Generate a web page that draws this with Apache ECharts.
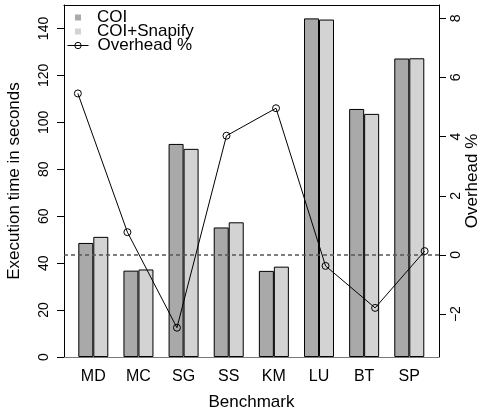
<!DOCTYPE html>
<html>
<head>
<meta charset="utf-8">
<script src="https://cdn.jsdelivr.net/npm/echarts@6/dist/echarts.min.js"></script>
<style>
  html, body { margin: 0; padding: 0; background: #fff; }
  #chart { width: 478px; height: 415px; }
</style>
</head>
<body>
<div id="chart"></div>
<script>
// data
const benchmarks = ['MD', 'MC', 'SG', 'SS', 'KM', 'LU', 'BT', 'SP']
const coiTimes = [48.6, 36.8, 90.8, 55.2, 36.7, 144.3, 105.7, 127.2]
const snapifyTimes = [51.2, 37.3, 88.7, 57.4, 38.5, 143.8, 103.6, 127.3]
const overheadPct = [5.46, 0.77, -2.46, 4.03, 4.96, -0.37, -1.79, 0.13]
const timeTicks = [0, 20, 40, 60, 80, 100, 120, 140]
const overheadTicks = [-2, 0, 2, 4, 6, 8]

const font = 'Liberation Sans, Arial, Helvetica, sans-serif'
const chart = echarts.init(document.getElementById('chart'))

const option = {
  animation: false,
  textStyle: { fontFamily: font, color: '#000' },
  // keep the plot box fixed, names may sit at the window edge
  grid: { left: 64, right: 39, top: 5, bottom: 58, outerBoundsMode: 'none' },
  legend: [
    {
      data: ['COI', 'COI+Snapify'],
      orient: 'vertical',
      left: 75,
      top: 9,
      padding: 0,
      itemGap: -3,
      itemWidth: 6,
      itemHeight: 6,
      icon: 'rect',
      itemStyle: { borderWidth: 0 },
      textStyle: { fontSize: 17, lineHeight: 14, color: '#000', padding: [0, 0, 0, 11] },
      selectedMode: false
    },
    {
      data: ['Overhead %'],
      orient: 'vertical',
      left: 67,
      top: 37,
      padding: 0,
      itemWidth: 21,
      itemHeight: 8,
      itemStyle: { borderWidth: 1 },
      lineStyle: { width: 1 },
      textStyle: { fontSize: 17, lineHeight: 14, color: '#000', padding: [0, 0, 0, 4] },
      selectedMode: false
    }
  ],
  xAxis: [
    {
      // bar positions: group i centred at i
      type: 'value',
      min: -0.649,
      max: 7.658,
      position: 'bottom',
      name: 'Benchmark',
      nameLocation: 'middle',
      nameGap: 37,
      nameMoveOverlap: false,
      nameTextStyle: { fontSize: 17, color: '#000' },
      axisLine: { show: true, onZero: false, lineStyle: { color: '#7a7a7a', width: 1 } },
      axisTick: { show: false },
      axisLabel: {
        customValues: benchmarks.map((b, i) => i),
        formatter: v => benchmarks[v],
        fontSize: 16,
        margin: 12,
        color: '#000'
      },
      splitLine: { show: false }
    },
    {
      // overhead line drawn on 1..8 like a second plot
      type: 'value',
      min: 0.72,
      max: 8.29,
      position: 'top',
      axisLine: { show: true, onZero: false, lineStyle: { color: '#000', width: 1 } },
      axisTick: { show: false },
      axisLabel: { show: false },
      splitLine: { show: false }
    }
  ],
  yAxis: [
    {
      type: 'value',
      min: 0,
      max: 150,
      position: 'left',
      name: 'Execution time in seconds',
      nameLocation: 'middle',
      nameRotate: 90,
      nameGap: 41,
      nameMoveOverlap: false,
      nameTextStyle: { fontSize: 17, color: '#000' },
      axisLine: { show: true, onZero: false, lineStyle: { color: '#000', width: 1 } },
      axisTick: { show: true, length: 7, customValues: timeTicks, lineStyle: { color: '#000' } },
      axisLabel: { customValues: timeTicks, rotate: 90, fontSize: 14, margin: 13, color: '#000' },
      splitLine: { show: false }
    },
    {
      type: 'value',
      min: -3.45,
      max: 8.45,
      position: 'right',
      name: 'Overhead %',
      nameLocation: 'middle',
      nameRotate: 90,
      nameGap: 25,
      nameMoveOverlap: false,
      nameTextStyle: { fontSize: 17, color: '#000' },
      axisLine: { show: true, onZero: false, lineStyle: { color: '#000', width: 1 } },
      axisTick: { show: true, length: 7, customValues: overheadTicks, lineStyle: { color: '#000' } },
      axisLabel: {
        customValues: overheadTicks,
        rotate: 90,
        fontSize: 14,
        margin: 10,
        color: '#000',
        formatter: v => (v < 0 ? '\u2212' + Math.abs(v) : String(v))
      },
      splitLine: { show: false }
    }
  ],
  series: [
    {
      name: 'COI',
      type: 'bar',
      xAxisIndex: 0,
      yAxisIndex: 0,
      barWidth: 15,
      barGap: '0%',
      data: coiTimes.map((v, i) => [i, v]),
      itemStyle: { color: '#a9a9a9', borderColor: '#000', borderWidth: 1 }
    },
    {
      name: 'COI+Snapify',
      type: 'bar',
      xAxisIndex: 0,
      yAxisIndex: 0,
      barWidth: 15,
      barGap: '0%',
      data: snapifyTimes.map((v, i) => [i, v]),
      itemStyle: { color: '#d3d3d3', borderColor: '#000', borderWidth: 1 }
    },
    {
      name: 'Overhead %',
      type: 'line',
      xAxisIndex: 1,
      yAxisIndex: 1,
      z: 5,
      data: overheadPct.map((v, i) => [i + 1, v]),
      symbol: 'circle',
      symbolSize: 7,
      lineStyle: { color: '#000', width: 1 },
      itemStyle: { color: 'rgba(0,0,0,0)', borderColor: '#000', borderWidth: 1 },
      markLine: {
        silent: true,
        symbol: 'none',
        label: { show: false },
        lineStyle: { color: '#555', type: [4, 3], width: 1.5 },
        data: [{ yAxis: 0 }]
      }
    }
  ]
}

chart.setOption(option)
</script>
</body>
</html>
